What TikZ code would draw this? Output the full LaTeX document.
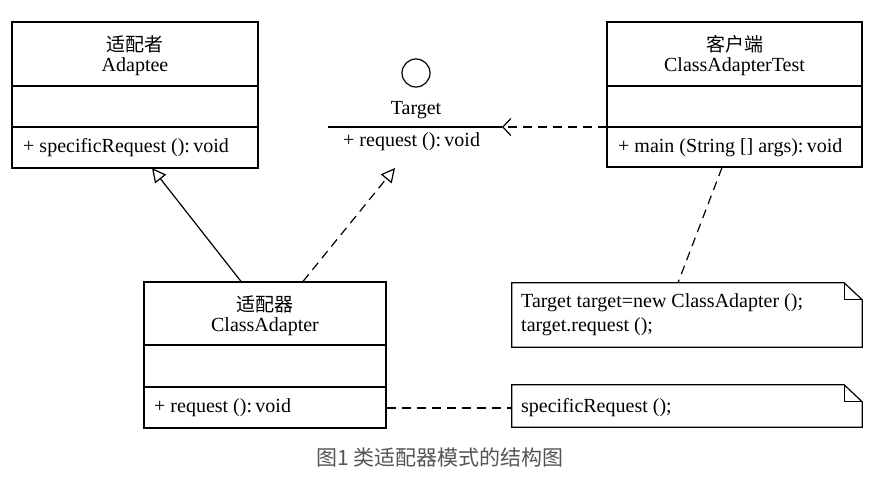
\documentclass[tikz,border=0pt]{standalone}
\usepackage{fontspec}
\setmainfont{Liberation Serif}
\newfontfamily\cjk{Noto Sans CJK SC}
\usetikzlibrary{arrows.meta, positioning}
\definecolor{captiongray}{RGB}{85,85,85}
\tikzset{
    umlbox/.style={draw, line width=1.2pt, minimum width=#1, inner sep=0pt},
    umltext/.style={font=\fontsize{20}{24}\selectfont, inner sep=0pt},
    umlline/.style={line width=1.2pt},
    umldash/.style={line width=1.2pt, dash pattern=on 9pt off 6pt},
    opentri/.style={-{Triangle[open, length=14pt, width=14pt, fill=white]}},
    openbarb/.style={-{Straight Barb[length=8pt, width=17pt]}}
}
\begin{document}
\begin{tikzpicture}[x=1pt, y=-1pt]
    \useasboundingbox (0,0) rectangle (880,479);
    % Adaptee
    \node[umlbox=246pt, minimum height=146pt] (adaptee) at (135,95) {};
    \draw[umlline] (12,86) -- (258,86);
    \draw[umlline] (12,127) -- (258,127);
    \node[umltext] (adapteecn) at (135,44) {\cjk\fontsize{19}{23}\selectfont 适配者};
    \node[umltext] (adapteename) at (135,67) {Adaptee};
    \node[umltext, anchor=west] (adapteeop) at (23,148) {+ specificRequest ():\,void};
    % Target interface
    \node[draw, circle, line width=1.2pt, minimum size=28pt, inner sep=0pt] (tcircle) at (416,73) {};
    \node[umltext] (targetname) at (416,110) {Target};
    \coordinate (tleft) at (328,127);
    \coordinate (tright) at (502,127);
    \draw[umlline] (tleft) -- (tright);
    \node[umltext, anchor=west] (targetop) at (343,142) {+ request ():\,void};
    % client
    \node[umlbox=255pt, minimum height=145pt] (client) at (734.5,94.5) {};
    \draw[umlline] (607,86) -- (862,86);
    \draw[umlline] (607,127) -- (862,127);
    \node[umltext] (clientcn) at (734.5,44) {\cjk\fontsize{19}{23}\selectfont 客户端};
    \node[umltext] (clientname) at (734.5,67) {ClassAdapterTest};
    \node[umltext, anchor=west] (clientop) at (618,148) {+ main (String [] args):\,void};
    % adapter
    \node[umlbox=242pt, minimum height=146pt] (adapter) at (265,355) {};
    \draw[umlline] (144,345) -- (386,345);
    \draw[umlline] (144,387) -- (386,387);
    \node[umltext] (adaptercn) at (265,304) {\cjk\fontsize{19}{23}\selectfont 适配器};
    \node[umltext] (adaptername) at (265,327) {ClassAdapter};
    \node[umltext, anchor=west] (adapterop) at (154,408) {+ request ():\,void};
    % notes
    \node[minimum width=350pt, minimum height=64pt, inner sep=0pt] (note1) at (687,315) {};
    \draw[umlline] (note1.north west) -- ([xshift=-18pt]note1.north east) -- ([yshift=-17pt]note1.north east) -- (note1.south east) -- (note1.south west) -- cycle;
    \draw[umlline] ([xshift=-18pt]note1.north east) -- ([xshift=-18pt, yshift=-17pt]note1.north east) -- ([yshift=-17pt]note1.north east);
    \node[umltext, anchor=west] (note1a) at (521,303) {Target target=new ClassAdapter ();};
    \node[umltext, anchor=west] (note1b) at (521,327) {target.request ();};
    \node[minimum width=350pt, minimum height=42pt, inner sep=0pt] (note2) at (687,406) {};
    \draw[umlline] (note2.north west) -- ([xshift=-18pt]note2.north east) -- ([yshift=-17pt]note2.north east) -- (note2.south east) -- (note2.south west) -- cycle;
    \draw[umlline] ([xshift=-18pt]note2.north east) -- ([xshift=-18pt, yshift=-17pt]note2.north east) -- ([yshift=-17pt]note2.north east);
    \node[umltext, anchor=west] (note2a) at (521,408) {specificRequest ();};
    % relations
    \coordinate (clientlink) at (607,127);
    \draw[umldash, openbarb] (clientlink) -- (tright);
    \coordinate (gentip) at (152,168);
    \draw[umlline, opentri] ([xshift=-24pt]adapter.north) -- (gentip);
    \coordinate (realtip) at (395,168);
    \draw[umldash, opentri] ([xshift=38pt]adapter.north) -- (realtip);
    \draw[umldash] ([xshift=-12.5pt]client.south) -- ([xshift=-9pt]note1.north);
    \draw[umldash] (adapter.east |- adapterop) -- (note2.west |- adapterop);
    % caption
    \node[font=\cjk\fontsize{21}{25}\selectfont, text=captiongray] (caption) at (440,457) {图1 类适配器模式的结构图};
\end{tikzpicture}
\end{document}
